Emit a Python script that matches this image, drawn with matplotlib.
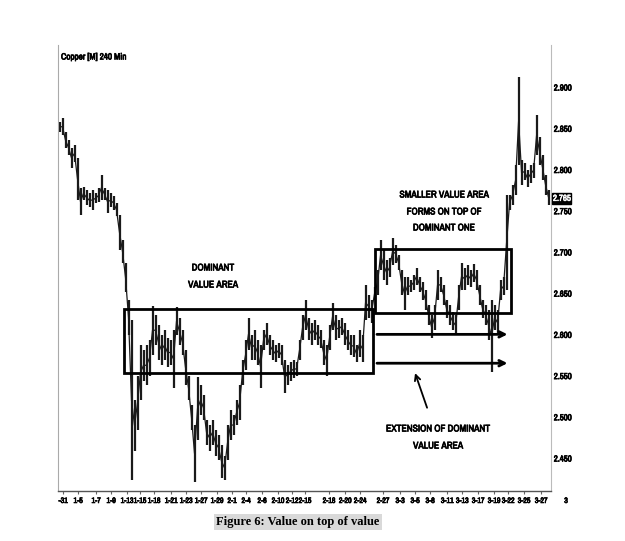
import matplotlib
matplotlib.use('Agg')
import matplotlib.pyplot as plt
import matplotlib.patheffects as pe
from matplotlib.patches import Rectangle
from matplotlib import font_manager

# copper 240 min bars (high / low per bar)
highs = [2.858, 2.862, 2.845, 2.836, 2.826, 2.830, 2.814, 2.777, 2.779, 2.775,
         2.771, 2.775, 2.771, 2.777, 2.793, 2.777, 2.775, 2.771, 2.768, 2.759,
         2.745, 2.714, 2.687, 2.642, 2.617, 2.520, 2.550, 2.587, 2.581, 2.587,
         2.593, 2.635, 2.623, 2.611, 2.599, 2.605, 2.596, 2.593, 2.605, 2.633,
         2.620, 2.605, 2.581, 2.550, 2.514, 2.490, 2.548, 2.538, 2.526, 2.496,
         2.490, 2.496, 2.484, 2.478, 2.466, 2.453, 2.490, 2.508, 2.502, 2.520,
         2.538, 2.569, 2.593, 2.620, 2.599, 2.605, 2.593, 2.587, 2.605, 2.614,
         2.599, 2.593, 2.587, 2.590, 2.587, 2.569, 2.563, 2.566, 2.569, 2.566,
         2.593, 2.623, 2.642, 2.620, 2.614, 2.617, 2.611, 2.605, 2.593, 2.587,
         2.611, 2.638, 2.623, 2.617, 2.620, 2.614, 2.605, 2.599, 2.599, 2.587,
         2.605, 2.599, 2.660, 2.648, 2.642, 2.657, 2.678, 2.714, 2.702, 2.690,
         2.693, 2.717, 2.709, 2.696, 2.678, 2.669, 2.669, 2.666, 2.672, 2.681,
         2.669, 2.663, 2.654, 2.636, 2.623, 2.636, 2.678, 2.669, 2.660, 2.642,
         2.636, 2.627, 2.623, 2.660, 2.687, 2.681, 2.684, 2.678, 2.685, 2.678,
         2.660, 2.642, 2.636, 2.629, 2.642, 2.636, 2.629, 2.666, 2.669, 2.769,
         2.769, 2.781, 2.805, 2.912, 2.811, 2.808, 2.799, 2.805, 2.808, 2.866,
         2.839, 2.817, 2.793, 2.775]
lows = [2.845, 2.842, 2.826, 2.817, 2.802, 2.809, 2.763, 2.745, 2.763, 2.757,
        2.754, 2.751, 2.759, 2.760, 2.763, 2.763, 2.747, 2.754, 2.751, 2.743,
        2.702, 2.687, 2.651, 2.599, 2.423, 2.459, 2.484, 2.520, 2.544, 2.538,
        2.550, 2.575, 2.587, 2.569, 2.563, 2.569, 2.560, 2.563, 2.535, 2.599,
        2.587, 2.575, 2.538, 2.520, 2.484, 2.421, 2.472, 2.502, 2.496, 2.466,
        2.459, 2.466, 2.453, 2.447, 2.426, 2.423, 2.447, 2.472, 2.478, 2.490,
        2.496, 2.538, 2.557, 2.581, 2.569, 2.569, 2.563, 2.535, 2.581, 2.587,
        2.575, 2.569, 2.566, 2.571, 2.563, 2.529, 2.538, 2.544, 2.547, 2.550,
        2.569, 2.593, 2.605, 2.593, 2.587, 2.593, 2.587, 2.584, 2.563, 2.550,
        2.581, 2.605, 2.593, 2.596, 2.599, 2.587, 2.581, 2.575, 2.572, 2.566,
        2.572, 2.566, 2.617, 2.620, 2.614, 2.642, 2.648, 2.678, 2.666, 2.660,
        2.669, 2.684, 2.687, 2.678, 2.648, 2.629, 2.648, 2.651, 2.654, 2.660,
        2.651, 2.642, 2.629, 2.611, 2.595, 2.605, 2.642, 2.651, 2.636, 2.620,
        2.611, 2.605, 2.599, 2.630, 2.654, 2.654, 2.660, 2.657, 2.663, 2.654,
        2.636, 2.620, 2.611, 2.593, 2.554, 2.605, 2.599, 2.642, 2.648, 2.654,
        2.751, 2.757, 2.769, 2.805, 2.781, 2.787, 2.779, 2.784, 2.790, 2.817,
        2.805, 2.787, 2.769, 2.757]
last_price = 2.765

date_labels = ['-31', '1-5', '1-7', '1-9', '1-13', '1-15', '1-18', '1-21', '1-23',
               '1-27', '1-29', '2-1', '2-4', '2-6', '2-10', '2-12', '2-15', '2-18',
               '2-20', '2-24', '2-27', '3-3', '3-5', '3-8', '3-11', '3-13', '3-17',
               '3-19', '3-22', '3-25', '3-27']
date_pos = [1.2, 6.2, 12.2, 17.2, 22.5, 26.8, 31.5, 37.2, 42.2, 47.2, 52.5, 57.5,
            62.2, 67.5, 72.8, 77.5, 81.8, 89.8, 95.2, 100.2, 107.8, 113.5, 118.5,
            123.5, 129.2, 134.2, 139.5, 144.8, 149.5, 154.8, 160.5]
price_ticks = [2.45, 2.50, 2.55, 2.60, 2.65, 2.70, 2.75, 2.80, 2.85, 2.90]

# value areas and extension lines
dominant_area = (21.5, 104.5, 2.553, 2.6305)
smaller_area = (105.2, 150.5, 2.6256, 2.7033)
extension_levels = [2.600, 2.565]

# the chart uses a very narrow bold face; take the narrowest one we have
fonts = font_manager.fontManager.ttflist
narrow_names = [f.name for f in fonts if 'Narrow' in f.name or 'Condensed' in f.name]
font_kw = dict(family=['Liberation Sans', 'DejaVu Sans'], fontweight='bold')
shrink = 0.8
if narrow_names:
    font_kw = dict(family=[narrow_names[0], 'DejaVu Sans'], fontweight='bold')
    shrink = 1.0
# a thin stroke thickens the narrow face, like the original bold type
bold = [pe.withStroke(linewidth=0.5, foreground='black')]
bold_white = [pe.withStroke(linewidth=0.4, foreground='white')]

fig = plt.figure(figsize=(6.25, 5.41), dpi=100)
ax = fig.add_axes([58 / 625, 1 - 491 / 541, 493 / 625, 446 / 541])

x = list(range(len(highs)))
mids = [(h + l) / 2 for h, l in zip(highs, lows)]
ax.vlines(x, lows, highs, color='#1a1a1a', lw=1.6, zorder=2)
ax.plot(x, mids, color='#1a1a1a', lw=0.9, zorder=2)

ax.set_xlim(-0.5, 163.8)
ax.set_ylim(2.410, 2.951)

for x0, x1, y0, y1 in [dominant_area, smaller_area]:
    ax.add_patch(Rectangle((x0, y0), x1 - x0, y1 - y0, fill=False,
                           edgecolor='black', lw=2.0, zorder=3))

for lvl in extension_levels:
    ax.annotate('', xy=(149.3, lvl), xytext=(105.8, lvl),
                arrowprops=dict(arrowstyle='->', color='black', lw=2.0,
                                mutation_scale=10, shrinkA=0, shrinkB=0))

ax.annotate('', xy=(118.5, 2.553), xytext=(122.5, 2.511),
            arrowprops=dict(arrowstyle='->', color='black', lw=1.3,
                            mutation_scale=10, shrinkA=0, shrinkB=0))

# axes styling
xtick_size = 5.6 * shrink
ytick_size = 6.3 * shrink
ax.yaxis.tick_right()
ax.set_yticks(price_ticks)
ax.set_yticklabels(['%.3f' % p for p in price_ticks])
ax.tick_params(axis='y', length=0, pad=2)
ax.set_xticks(date_pos)
ax.set_xticklabels(date_labels)
ax.tick_params(axis='x', length=2.5, color='#666666', pad=2.5)
for lab in ax.get_xticklabels():
    lab.set(fontsize=xtick_size, path_effects=bold, **font_kw)
for lab in ax.get_yticklabels():
    lab.set(fontsize=ytick_size, path_effects=bold, **font_kw)

ax.spines['top'].set_visible(False)
ax.spines['left'].set_color('#aaaaaa')
ax.spines['right'].set_color('#bbbbbb')
ax.spines['bottom'].set_color('#555555')
ax.spines['bottom'].set_linewidth(1.0)

ax.annotate('3', xy=(168.8, 0), xycoords=('data', 'axes fraction'),
            xytext=(0, -5), textcoords='offset points', fontsize=xtick_size,
            ha='center', va='top', annotation_clip=False, path_effects=bold, **font_kw)
ax.text(1.004, last_price, '%.3f' % last_price, color='white', fontsize=ytick_size,
        ha='left', va='center', transform=ax.get_yaxis_transform(), clip_on=False,
        zorder=5, path_effects=bold_white,
        bbox=dict(boxstyle='square,pad=0.1', facecolor='black', edgecolor='black'),
        **font_kw)

def px(xp, yp):
    return xp / 625, 1 - yp / 541

fig.text(*px(61, 57), 'Copper [M] 240 Min', fontsize=6.5 * shrink,
         ha='left', va='center', path_effects=bold, **font_kw)
notes = [(213, 268, 'DOMINANT'), (213, 285, 'VALUE AREA'),
         (444, 195, 'SMALLER VALUE AREA'), (444, 212, 'FORMS ON TOP OF'),
         (444, 228, 'DOMINANT ONE'), (438, 429, 'EXTENSION OF DOMINANT'),
         (438, 446, 'VALUE AREA')]
for xp, yp, s in notes:
    fig.text(*px(xp, yp), s, fontsize=7.0 * shrink, ha='center', va='center',
             path_effects=bold, **font_kw)

fig.text(*px(298, 522), 'Figure 6: Value on top of value', family='Liberation Serif',
         fontweight='bold', fontsize=9, ha='center', va='center',
         bbox=dict(boxstyle='square,pad=0.15', facecolor='#d9d9d9', edgecolor='none'))

fig.savefig('out.png', dpi=100)
